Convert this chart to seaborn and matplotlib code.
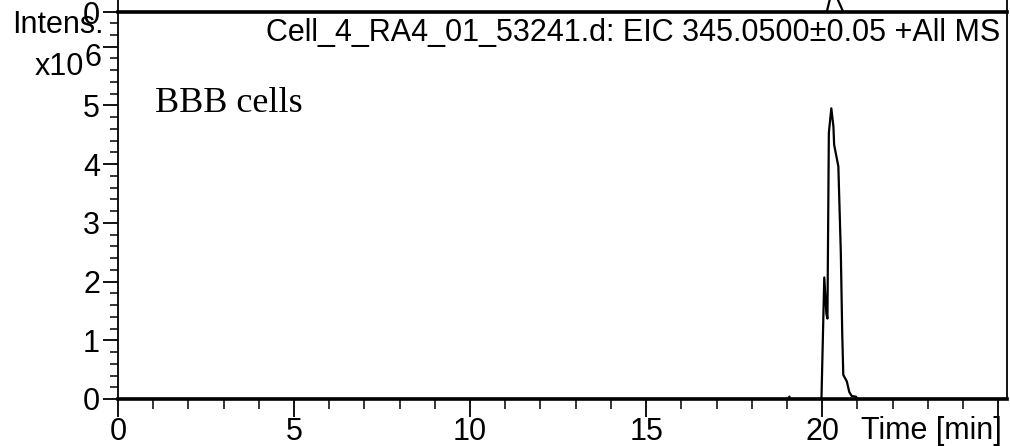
import matplotlib
matplotlib.use("Agg")
import matplotlib.pyplot as plt
import seaborn as sns
import numpy as np
import pandas as pd
from matplotlib.ticker import MultipleLocator, FixedLocator

# ---- data ----
time_min = [0.0, 19.02, 19.07, 19.10, 19.13, 19.98, 20.06, 20.12, 20.15, 20.19, 20.26,
            20.32, 20.34, 20.46, 20.53, 20.57, 20.60, 20.70, 20.77, 20.84, 20.96, 21.00, 25.25]
intensity_e6 = [0.0, 0.0, 0.04, 0.0, 0.0, 0.0, 2.07, 1.45, 1.37, 4.53, 4.95,
                4.64, 4.33, 3.96, 2.49, 1.12, 0.41, 0.30, 0.12, 0.05, 0.04, 0.0, 0.0]
upper_time = [0.0, 20.13, 20.25, 20.38, 20.60, 25.25]
upper_int = [0.0, 0.0, 1.3, 1.3, 0.0, 0.0]
x_major = [0, 5, 10, 15, 20]
y_major_labels = ["0", "1", "2", "3", "4", "5"]

title_text = "Cell_4_RA4_01_53241.d: EIC 345.0500\u00b10.05 +All MS"
sample_text = "BBB cells"

sns.set_theme(style="ticks")
plt.rcParams['font.family'] = ['Liberation Sans', 'DejaVu Sans']
plt.rcParams['text.color'] = 'black'

FS = 22
fig = plt.figure(figsize=(10.10, 4.46), dpi=100)
W, H = 1010, 446
left, right = 118 / W, 1007 / W
bottom, top = 1 - 399 / H, 1 - 12 / H

ax = fig.add_axes([left, bottom, right - left, top - bottom])
axu = fig.add_axes([left, top, right - left, 0.3])

df = pd.DataFrame({"t": time_min, "i": intensity_e6})
dfu = pd.DataFrame({"t": upper_time, "i": upper_int})
sns.lineplot(data=df, x="t", y="i", ax=ax, color="black", lw=1.6, sort=False)
sns.lineplot(data=dfu, x="t", y="i", ax=axu, color="black", lw=1.6, sort=False)

for a in (ax, axu):
    a.set_xlim(0, 25.25)
    a.set_xlabel("")
    a.set_ylabel("")
    for s in a.spines.values():
        s.set_linewidth(1.3)
        s.set_color("black")
    a.spines['bottom'].set_linewidth(2.6)
    a.set_facecolor("white")

ax.set_ylim(0, 6.59)
ax.spines['top'].set_visible(False)
ax.xaxis.set_major_locator(FixedLocator(x_major + [25]))
ax.xaxis.set_minor_locator(MultipleLocator(1))
ax.yaxis.set_major_locator(FixedLocator(list(range(0, 7))))
ax.yaxis.set_minor_locator(MultipleLocator(0.2))
ax.set_yticklabels(y_major_labels + [""])
ax.set_xticklabels([str(v) for v in x_major] + [""])
ax.tick_params(axis='both', which='major', direction='out', length=11, width=1.3,
               labelsize=FS, colors='black', pad=2)
ax.tick_params(axis='both', which='minor', direction='out', length=6, width=1.3)
ax.tick_params(axis='x', which='major', length=13, pad=0)
ax.tick_params(axis='x', which='minor', length=7)

axu.set_ylim(0, 10)
axu.set_xticks([])
axu.yaxis.set_major_locator(FixedLocator([0]))
axu.yaxis.set_minor_locator(MultipleLocator(1))
axu.set_yticklabels(["0"])
axu.tick_params(axis='y', which='major', direction='out', length=11, width=1.3,
                labelsize=FS, colors='black', pad=2)
axu.tick_params(axis='y', which='minor', direction='out', length=6, width=1.3)

fig.text(12 / W, 1 - 33 / H, "Intens.", fontsize=FS, ha='left', va='baseline', color='black')
fig.text(84 / W, 1 - 75 / H, "x10", fontsize=FS, ha='right', va='baseline', color='black')
fig.text(84 / W, 1 - 66 / H, "6", fontsize=FS, ha='left', va='baseline', color='black')
fig.text(1000 / W, 1 - 41 / H, title_text, fontsize=FS, ha='right', va='baseline', color='black')
fig.text(1002 / W, 1 - 439 / H, "Time [min]", fontsize=FS, ha='right', va='baseline', color='black')
fig.text(155 / W, 1 - 112 / H, sample_text, fontsize=26, ha='left', va='baseline',
         family=['Liberation Serif', 'DejaVu Serif'], color='black')

fig.savefig("out.png", dpi=100, facecolor="white")
